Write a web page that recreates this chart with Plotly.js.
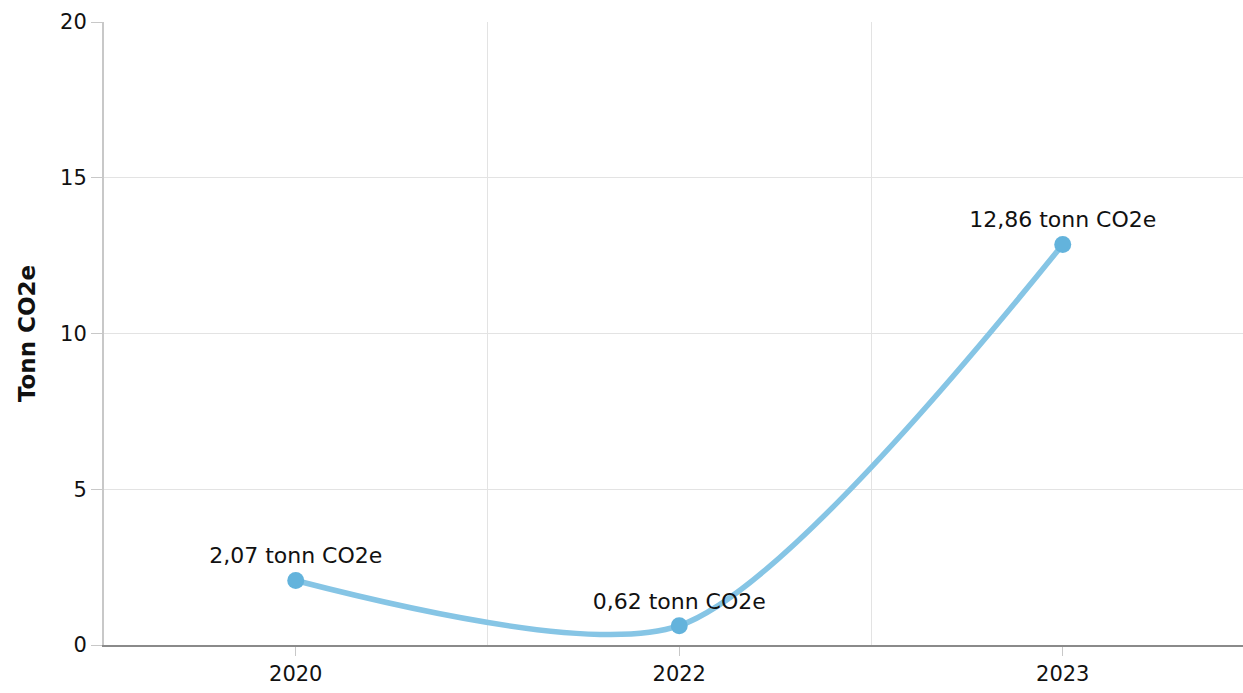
<!DOCTYPE html>
<html>
<head>
<meta charset="utf-8">
<script src="https://cdn.plot.ly/plotly-3.0.1.min.js"></script>
<style>
html,body{margin:0;padding:0;background:#fff;overflow:hidden;}
#chart{width:1243px;height:693px;}
</style>
</head>
<body>
<div id="chart"></div>
<script>
const categories = ["2020", "2022", "2023"];
const values = [2.07, 0.62, 12.86];
const labels = ["2,07 tonn CO2e", "0,62 tonn CO2e", "12,86 tonn CO2e"];
const yTicks = [0, 5, 10, 15, 20];

const xIdx = categories.map((_, i) => i);
const FONT = "DejaVu Sans, Verdana, sans-serif";

Plotly.newPlot("chart", [{
  x: xIdx,
  y: values,
  type: "scatter",
  mode: "lines+markers+text",
  line: {shape: "spline", smoothing: 0.75, color: "#86c5e5", width: 5.5},
  marker: {size: 17, color: "#63b3dc"},
  text: labels,
  textposition: "top center",
  textfont: {family: FONT, size: 22, color: "#111"},
  hoverinfo: "none",
  cliponaxis: false
}], {
  width: 1243,
  height: 693,
  margin: {l: 104, r: 0, t: 22, b: 48},
  paper_bgcolor: "#fff",
  plot_bgcolor: "#fff",
  showlegend: false,
  font: {family: FONT, size: 21, color: "#111"},
  xaxis: {
    range: [-0.5, 2.47],
    tickvals: xIdx,
    ticktext: categories,
    showgrid: false,
    zeroline: false,
    showline: true,
    linecolor: "#8a8a8a",
    linewidth: 2,
    ticks: "outside",
    ticklen: 9,
    tickwidth: 1,
    tickcolor: "#c8c8c8",
    tickfont: {family: FONT, size: 21, color: "#111"},
    minor: {tickvals: [0.5, 1.5], showgrid: true, gridcolor: "#e3e3e3", gridwidth: 1, ticks: ""}
  },
  yaxis: {
    range: [0, 20],
    tickvals: yTicks,
    ticktext: yTicks.map(String),
    showgrid: true,
    gridcolor: "#e3e3e3",
    gridwidth: 1,
    zeroline: false,
    showline: true,
    linecolor: "#c8c8c8",
    linewidth: 2,
    ticks: "outside",
    ticklen: 11,
    tickwidth: 1,
    tickcolor: "#c8c8c8",
    tickfont: {family: FONT, size: 21, color: "#111"},
    title: {text: "<b>Tonn CO2e</b>", font: {family: FONT, size: 23, color: "#111"}, standoff: 18}
  }
}, {displayModeBar: false, staticPlot: true});
</script>
</body>
</html>
